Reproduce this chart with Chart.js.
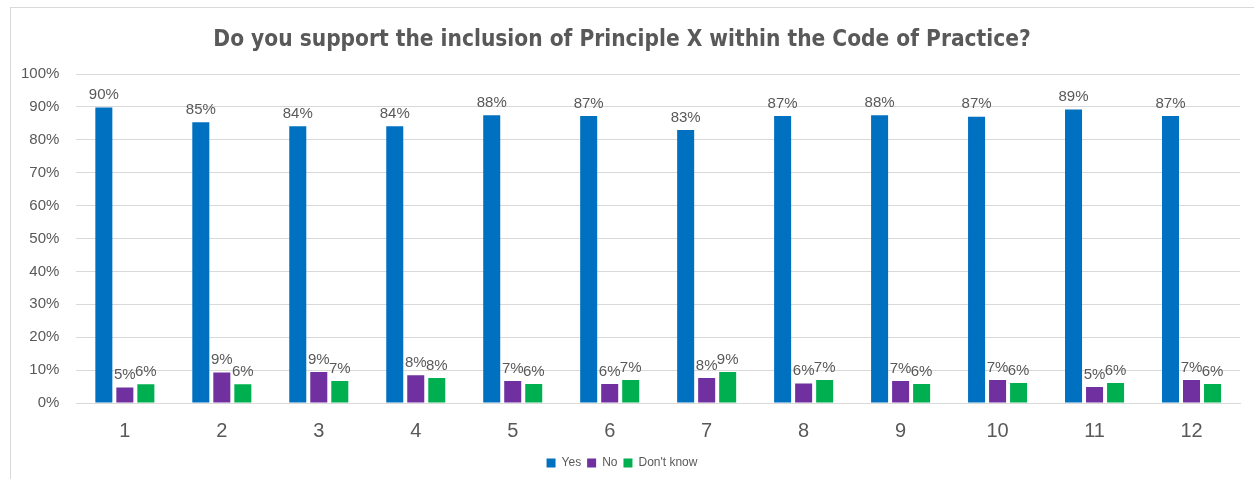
<!DOCTYPE html>
<html>
<head>
<meta charset="utf-8">
<script src="https://cdn.jsdelivr.net/npm/chart.js@4.4.0/dist/chart.umd.min.js"></script>
<style>
  html, body { margin: 0; padding: 0; background: #fff; }
  #wrap { position: relative; width: 1254px; height: 479px; overflow: hidden; }
  #frame { position: absolute; left: 10px; top: 7px; width: 1300px; height: 500px; border: 1px solid #d9d9d9; box-sizing: border-box; }
  #grafico { position: absolute; left: 0; top: 0; }
</style>
</head>
<body>
<div id="wrap">
  <div id="frame"></div>
  <canvas id="grafico" width="1254" height="479"></canvas>
</div>
<script>
// question groups
const grupos = ['1', '2', '3', '4', '5', '6', '7', '8', '9', '10', '11', '12'];

// answers in percent
const sim = [89.8, 85.3, 84.1, 84.1, 87.5, 87.2, 83.0, 87.2, 87.5, 87.0, 89.2, 87.2];
const nao = [4.7, 9.3, 9.4, 8.4, 6.7, 5.8, 7.6, 5.9, 6.7, 7.0, 4.9, 7.0];
const naoSei = [5.7, 5.7, 6.7, 7.6, 5.8, 7.0, 9.4, 7.0, 5.8, 6.1, 6.1, 5.8];

const nomes = ['Yes', 'No', "Don't know"];
const cores = ['#0070C0', '#7030A0', '#00B050'];

const fonte = "'Liberation Sans', Arial, sans-serif";
const cinza = '#595959';

// writes the value above every bar
const rotulos = {
    id: 'rotulos',
    afterDatasetsDraw(chart) {
        const ctx = chart.ctx;
        ctx.save();
        ctx.font = '15px ' + fonte;
        ctx.fillStyle = cinza;
        ctx.textAlign = 'center';
        ctx.textBaseline = 'bottom';
        chart.data.datasets.forEach((ds, i) => {
            const meta = chart.getDatasetMeta(i);
            meta.data.forEach((bar, j) => {
                ctx.fillText(Math.round(ds.data[j]) + '%', bar.x, bar.y - 5);
            });
        });
        ctx.restore();
    }
};

const dados = {
    labels: grupos,
    datasets: [sim, nao, naoSei].map((valores, i) => ({
        label: nomes[i],
        data: valores,
        backgroundColor: cores[i],
        borderWidth: 0,
        categoryPercentage: 0.65,
        barPercentage: 0.81
    }))
};

const config = {
    type: 'bar',
    data: dados,
    plugins: [rotulos],
    options: {
        responsive: false,
        animation: false,
        layout: { padding: { left: 4, right: 14, top: 0, bottom: 0 } },
        plugins: {
            title: {
                display: true,
                text: 'Do you support the inclusion of Principle X within the Code of Practice?',
                color: cinza,
                font: { family: "'DejaVu Sans Condensed', sans-serif", size: 22.5, weight: 'bold' },
                padding: { top: 27, bottom: 20 }
            },
            legend: {
                position: 'bottom',
                labels: {
                    boxWidth: 9,
                    boxHeight: 9,
                    padding: 6,
                    color: cinza,
                    font: { family: fonte, size: 12 }
                }
            },
            tooltip: { enabled: false }
        },
        scales: {
            x: {
                grid: { display: false },
                border: { color: '#d9d9d9' },
                ticks: { color: cinza, font: { family: fonte, size: 20 }, padding: 8 }
            },
            y: {
                min: 0,
                max: 100,
                ticks: {
                    stepSize: 10,
                    color: cinza,
                    padding: 17,
                    font: { family: fonte, size: 15 },
                    callback: v => v + '%'
                },
                grid: { color: '#d9d9d9', drawTicks: false },
                border: { display: false }
            }
        }
    }
};

const myChart = new Chart(document.getElementById('grafico'), config);
</script>
</body>
</html>
